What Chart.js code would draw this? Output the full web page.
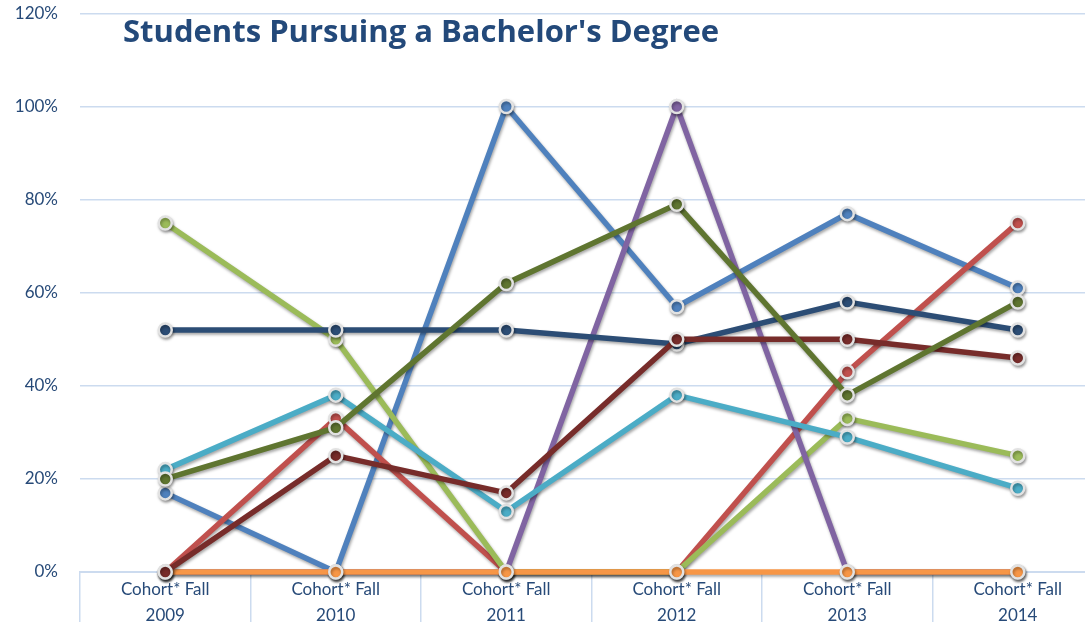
<!DOCTYPE html>
<html>
<head>
<meta charset="utf-8">
<script src="https://cdn.jsdelivr.net/npm/chart.js@4/dist/chart.umd.min.js"></script>
<style>
  html, body { margin: 0; padding: 0; background: #ffffff; overflow: hidden; }
  #wrap { position: relative; width: 1112px; height: 622px; }
</style>
</head>
<body>
<div id="wrap"><canvas id="c"></canvas></div>
<script>
const chartTitle = "Students Pursuing a Bachelor's Degree";
const categories = [
  ['Cohort* Fall', '2009'], ['Cohort* Fall', '2010'], ['Cohort* Fall', '2011'],
  ['Cohort* Fall', '2012'], ['Cohort* Fall', '2013'], ['Cohort* Fall', '2014']
];
const yTicks = [0, 20, 40, 60, 80, 100, 120];

const seriesBlue      = [17, 0, 100, 57, 77, 61];
const seriesRed       = [0, 33, 0, 0, 43, 75];
const seriesGreen     = [75, 50, 0, 0, 33, 25];
const seriesPurple    = [0, 0, 0, 100, 0, 0];
const seriesAqua      = [22, 38, 13, 38, 29, 18];
const seriesOrange    = [0, 0, 0, 0, 0, 0];
const seriesNavy      = [52, 52, 52, 49, 58, 52];
const seriesDarkRed   = [0, 25, 17, 50, 50, 46];
const seriesDarkGreen = [20, 31, 62, 79, 38, 58];

const seriesList = [
  { data: seriesBlue, color: '#4F81BD' },
  { data: seriesRed, color: '#C0504D' },
  { data: seriesGreen, color: '#9BBB59' },
  { data: seriesPurple, color: '#8064A2' },
  { data: seriesAqua, color: '#4BACC6' },
  { data: seriesOrange, color: '#F79646' },
  { data: seriesNavy, color: '#2C4D75' },
  { data: seriesDarkRed, color: '#772C2A' },
  { data: seriesDarkGreen, color: '#5F7530' }
];

const n = seriesList.length;
const datasets = seriesList.map((s, i) => ({
  data: s.data,
  borderColor: s.color,
  backgroundColor: s.color,
  pointBackgroundColor: s.color,
  pointBorderColor: '#e2e2e2',
  pointBorderWidth: 2.5,
  pointRadius: 6.5,
  borderWidth: 5.5,
  tension: 0,
  fill: false,
  clip: false,
  order: n - i
}));

const shadowPlugin = {
  id: 'shadow',
  beforeDatasetDraw(chart) {
    const ctx = chart.ctx;
    ctx.save();
    ctx.shadowColor = 'rgba(0,0,0,0.35)';
    ctx.shadowBlur = 3;
    ctx.shadowOffsetX = 1;
    ctx.shadowOffsetY = 2;
  },
  afterDatasetDraw(chart) {
    chart.ctx.restore();
  }
};

const titlePlugin = {
  id: 'customTitle',
  afterDraw(chart) {
    const ctx = chart.ctx;
    ctx.save();
    let size = 33;
    ctx.font = 'bold ' + size + 'px "Open Sans"';
    while (ctx.measureText(chartTitle).width > 602 && size > 10) {
      size -= 0.5;
      ctx.font = 'bold ' + size + 'px "Open Sans"';
    }
    ctx.fillStyle = '#23497A';
    ctx.textBaseline = 'alphabetic';
    ctx.textAlign = 'left';
    ctx.fillText(chartTitle, 123, 42);
    ctx.restore();
  }
};

new Chart(document.getElementById('c'), {
  type: 'line',
  data: { labels: categories, datasets: datasets },
  options: {
    responsive: true,
    maintainAspectRatio: false,
    devicePixelRatio: 1,
    animation: false,
    layout: { padding: { top: 13.5, right: 0, left: 0, bottom: 0 } },
    plugins: {
      legend: { display: false },
      title: { display: false },
      tooltip: { enabled: false }
    },
    scales: {
      x: {
        offset: true,
        grid: {
          offset: true,
          drawOnChartArea: false,
          drawTicks: true,
          tickLength: 52,
          color: '#CCDBEF',
          lineWidth: 1.5
        },
        border: { display: true, color: '#CCDBEF', width: 2 },
        ticks: {
          autoSkip: false,
          maxRotation: 0,
          minRotation: 0,
          padding: -47,
          color: '#274A78',
          font: { family: 'Lato', size: 17, lineHeight: 1.5 }
        },
        afterFit(scale) {
          scale.height = 50;
          scale.paddingLeft = 0;
          scale.paddingRight = 0;
        }
      },
      y: {
        min: 0,
        max: 120,
        afterBuildTicks(scale) { scale.ticks = yTicks.map(v => ({ value: v })); },
        grid: {
          drawTicks: false,
          color: '#CCDBEF',
          lineWidth: 1.5
        },
        border: { display: false },
        ticks: {
          padding: 22,
          color: '#274A78',
          font: { family: 'Lato', size: 17 },
          callback: v => v + '%'
        },
        afterFit(scale) {
          scale.width = 80;
          scale.paddingTop = 0;
          scale.paddingBottom = 0;
        }
      }
    }
  },
  plugins: [shadowPlugin, titlePlugin]
});
</script>
</body>
</html>
